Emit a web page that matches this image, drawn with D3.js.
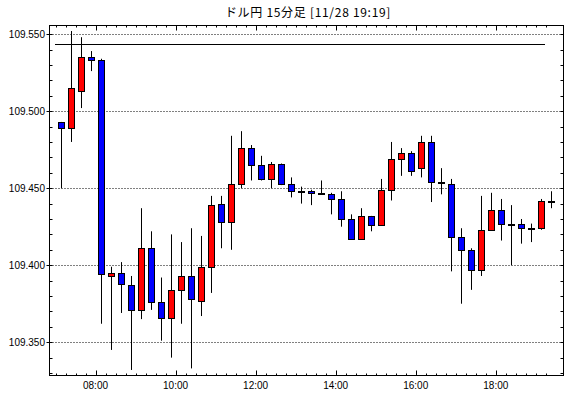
<!DOCTYPE html>
<html>
  <head>
    <meta charset="utf-8">
    <script src="https://d3js.org/d3.v7.min.js"></script>
    <style>
      body { margin: 0; background: #fff; }
      .grid { stroke: #000; stroke-dasharray: 1,2; }
      .frame { fill: none; stroke: #000; }
      .lbl { font-family: "Liberation Sans", Arial, sans-serif; font-size: 10px; fill: #000; }
      .title { font-family: "Noto Sans CJK JP", sans-serif; font-size: 12px; letter-spacing: 0.7px; fill: #000; }
    </style>
  </head>
  <body>
    <svg width="570" height="398"></svg>
    <script>
      // 15分足データ
      var times = ["07:00","07:15","07:30","07:45","08:00","08:15","08:30","08:45","09:00","09:15",
                   "09:30","09:45","10:00","10:15","10:30","10:45","11:00","11:15","11:30","11:45",
                   "12:00","12:15","12:30","12:45","13:00","13:15","13:30","13:45","14:00","14:15",
                   "14:30","14:45","15:00","15:15","15:30","15:45","16:00","16:15","16:30","16:45",
                   "17:00","17:15","17:30","17:45","18:00","18:15","18:30","18:45","19:00","19:15"];
      var open  = [109.493,109.489,109.513,109.535,109.533,109.393,109.395,109.387,109.371,109.411,
                   109.376,109.366,109.384,109.393,109.377,109.399,109.440,109.428,109.453,109.476,
                   109.465,109.456,109.466,109.453,109.448,109.448,109.447,109.446,109.443,109.430,
                   109.417,109.432,109.426,109.449,109.469,109.473,109.463,109.480,109.454,109.453,
                   109.418,109.410,109.397,109.423,109.436,109.427,109.427,109.424,109.424,109.442];
      var high  = [109.493,109.552,109.548,109.539,109.534,109.399,109.402,109.393,109.437,109.422,
                   109.392,109.420,109.415,109.424,109.419,109.445,109.445,109.484,109.487,109.478,
                   109.471,109.467,109.466,109.457,109.451,109.449,109.455,109.447,109.448,109.433,
                   109.437,109.432,109.456,109.480,109.476,109.474,109.484,109.484,109.463,109.456,
                   109.424,109.411,109.445,109.447,109.443,109.439,109.430,109.427,109.443,109.448];
      var low   = [109.450,109.480,109.502,109.526,109.362,109.345,109.369,109.332,109.365,109.371,
                   109.351,109.340,109.362,109.333,109.367,109.382,109.411,109.410,109.450,109.455,
                   109.455,109.450,109.452,109.444,109.440,109.439,109.446,109.433,109.425,109.417,
                   109.417,109.422,109.426,109.442,109.458,109.458,109.457,109.441,109.446,109.396,
                   109.375,109.384,109.393,109.423,109.416,109.400,109.414,109.415,109.423,109.437];
      var close = [109.489,109.515,109.535,109.533,109.394,109.395,109.388,109.371,109.411,109.376,
                   109.366,109.384,109.393,109.378,109.399,109.439,109.428,109.453,109.476,109.465,
                   109.456,109.466,109.453,109.448,109.448,109.447,109.446,109.443,109.430,109.417,
                   109.432,109.426,109.449,109.469,109.473,109.461,109.480,109.454,109.454,109.418,
                   109.410,109.397,109.423,109.436,109.427,109.427,109.424,109.424,109.442,109.442];
      var priceTicks = [109.350, 109.400, 109.450, 109.500, 109.550];
      var hourLabels = ["08:00","10:00","12:00","14:00","16:00","18:00"];
      var refLine = 109.5436;
      var title = "ドル円 15分足 [11/28 19:19]";

      function mins(s) { var p = s.split(":"); return +p[0] * 60 + +p[1]; }

      var pL = 49.5, pR = 563.5, pT = 25.5, pB = 375.5;
      var svg = d3.select("svg");

      var x = d3.scaleLinear().domain([411, 1181.5]).range([pL, pR]);
      var y = d3.scaleLinear().domain([109.3284, 109.5556]).range([pB, pT]);

      // タイトル
      svg.append("text").attr("class", "title")
          .attr("x", 308).attr("y", 17).attr("text-anchor", "middle")
          .text(title);

      // 点線グリッド
      svg.selectAll(".grid").data(priceTicks).enter().append("line")
          .attr("class", "grid")
          .attr("x1", pL).attr("x2", pR)
          .attr("y1", function(d) { return Math.round(y(d)) + 0.5; })
          .attr("y2", function(d) { return Math.round(y(d)) + 0.5; });

      // 価格軸ラベル
      svg.selectAll(".ylbl").data(priceTicks).enter().append("text")
          .attr("class", "lbl")
          .attr("x", 45).attr("y", function(d) { return Math.round(y(d)) + 4; })
          .attr("text-anchor", "end")
          .text(function(d) { return d.toFixed(3); });
      svg.selectAll(".ymaj").data(priceTicks).enter().append("line")
          .attr("stroke", "#000")
          .attr("x1", pL - 3).attr("x2", pL)
          .attr("y1", function(d) { return Math.round(y(d)) + 0.5; })
          .attr("y2", function(d) { return Math.round(y(d)) + 0.5; });

      // 0.01刻みの目盛
      var minorY = d3.range(109.33, 109.556, 0.01);
      minorY.forEach(function(v) {
        var yy = Math.round(y(v)) + 0.5;
        svg.append("line").attr("stroke", "#000")
            .attr("x1", pL).attr("x2", pL + 3).attr("y1", yy).attr("y2", yy);
        svg.append("line").attr("stroke", "#000")
            .attr("x1", pR - 3).attr("x2", pR).attr("y1", yy).attr("y2", yy);
      });

      // 時間軸目盛 (15分刻み)
      times.forEach(function(t) {
        var xx = Math.round(x(mins(t))) + 0.5;
        var len = hourLabels.indexOf(t) >= 0 ? 5 : 2;
        svg.append("line").attr("stroke", "#000")
            .attr("x1", xx).attr("x2", xx).attr("y1", pB).attr("y2", pB - len);
        svg.append("line").attr("stroke", "#000")
            .attr("x1", xx).attr("x2", xx).attr("y1", pT).attr("y2", pT + len);
      });
      svg.selectAll(".xlbl").data(hourLabels).enter().append("text")
          .attr("class", "lbl")
          .attr("x", function(d) { return x(mins(d)); })
          .attr("y", 389).attr("text-anchor", "middle")
          .text(function(d) { return d; });

      // 水平線
      svg.append("line").attr("stroke", "#000")
          .attr("x1", 55).attr("x2", 545)
          .attr("y1", Math.round(y(refLine)) + 0.5).attr("y2", Math.round(y(refLine)) + 0.5);

      // ローソク足
      var candles = times.map(function(t, i) {
        return { t: mins(t) + 7.5, o: open[i], h: high[i], l: low[i], c: close[i] };
      });
      var g = svg.append("g");
      g.selectAll(".wick").data(candles).enter().append("line")
          .attr("stroke", "#000")
          .attr("x1", function(d) { return Math.round(x(d.t)) + 0.5; })
          .attr("x2", function(d) { return Math.round(x(d.t)) + 0.5; })
          .attr("y1", function(d) { return y(d.h); })
          .attr("y2", function(d) { return y(d.l); });
      g.selectAll(".body").data(candles).enter().append("rect")
          .attr("x", function(d) { return Math.round(x(d.t)) - 2.5; })
          .attr("y", function(d) { return Math.round(y(Math.max(d.o, d.c))) + 0.5; })
          .attr("width", 6)
          .attr("height", function(d) {
            return Math.max(1, Math.round(y(Math.min(d.o, d.c))) - Math.round(y(Math.max(d.o, d.c))));
          })
          .attr("fill", function(d) { return d.c > d.o ? "#ff0000" : (d.c < d.o ? "#0000ff" : "#000"); })
          .attr("stroke", "#000");

      // 枠
      svg.append("rect").attr("class", "frame")
          .attr("x", pL).attr("y", pT)
          .attr("width", pR - pL).attr("height", pB - pT);
    </script>
  </body>
</html>
